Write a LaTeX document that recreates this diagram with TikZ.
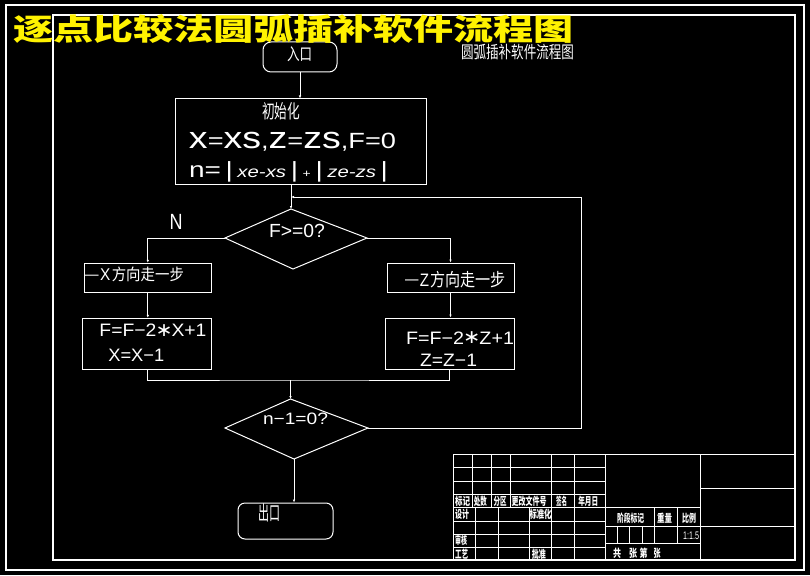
\documentclass[tikz,border=0pt]{standalone}
\usepackage{fontspec}
\usepackage{graphicx}
\setmainfont{Liberation Sans}
\newfontfamily\cjk{Noto Sans CJK SC}
\newfontfamily\dv{DejaVu Sans}
\usetikzlibrary{arrows.meta}
\newcommand\fitw[2]{\resizebox{#1}{\height}{#2}}
\newcommand\fs[1]{\fontsize{#1}{#1}\selectfont}
\newcommand\cx[1]{\scalebox{1.38}[1.38]{#1}}
\newcommand\myast{\kern-0.05em\raisebox{0.02em}{\scalebox{1.05}{\dv ∗}}\kern-0.05em}
\newcommand\mydash[1]{\raisebox{0.14em}{\fs{#1}—}}
\tikzset{
  ln/.style={draw=white, line width=1pt},
  tip/.style={ln, -{Latex[length=3pt,width=2.5pt]}},
  border/.style={draw=white, line width=1.3pt},
  boxn/.style={draw=white, line width=1pt, inner sep=0pt},
  txt/.style={text=white, inner sep=0pt},
  cell/.style={text=white, inner sep=0pt, font=\cjk\bfseries\fs{11}},
}
\begin{document}
\begin{tikzpicture}[x=1pt,y=-1pt]
\fill[black] (0,0) rectangle (810,575);
\useasboundingbox (0,0) rectangle (810,575);
% drawing frame
\draw[border] (6,5) rectangle (804,570);
\draw[border] (53,15) rectangle (795,560);

% boxes
\node[boxn, rounded corners=8pt, minimum width=74pt, minimum height=30pt] (start) at (300,57) {};
\node[boxn, minimum width=251pt, minimum height=85pt] (init) at (300.5,141.5) {};
\node[boxn, minimum width=127.5pt, minimum height=29pt] (bx1) at (147.8,277.8) {};
\node[boxn, minimum width=129.5pt, minimum height=50.7pt] (bx2) at (147,343.7) {};
\node[boxn, minimum width=127pt, minimum height=29pt] (bx3) at (450.5,277.5) {};
\node[boxn, minimum width=129pt, minimum height=51pt] (bx4) at (449.5,343.5) {};
\node[boxn, rounded corners=7pt, minimum width=95pt, minimum height=36pt] (exit) at (285.5,521) {};

% diamonds
\coordinate (d1t) at (291,209);
\coordinate (d1r) at (367,238);
\coordinate (d1b) at (293,269);
\coordinate (d1l) at (225,238);
\draw[ln] (d1t) -- (d1r) -- (d1b) -- (d1l) -- cycle;
\coordinate (d2t) at (290.5,399);
\coordinate (d2r) at (368,428);
\coordinate (d2b) at (294,459);
\coordinate (d2l) at (225,428);
\draw[ln] (d2t) -- (d2r) -- (d2b) -- (d2l) -- cycle;

% connectors
\coordinate (m) at (290.5,380);
\coordinate (lc) at (581,197);
\coordinate (j1) at (291,197);
\draw[tip] (start.south) -- (start.south |- init.north);
\draw[tip] (init.south -| d1t) -- (d1t);
\draw[tip] (d1l) -| (bx1.north);
\draw[tip] (d1r) -| (bx3.north);
\draw[tip] (bx1.south) -- (bx1.south |- bx2.north);
\draw[tip] (bx3.south) -- (bx3.south |- bx4.north);
\draw[ln] (bx2.south) |- (m) -| (bx4.south);
\draw[tip] (m) -- (d2t);
\draw[tip] (d2r) -| (lc) -- (j1);
\draw[tip] (d2b) -- (d2b |- exit.north);

% table (title block)
\draw[ln] (453,454) rectangle (795,560);
\foreach \y in {467.3,481,494.3,507.3,521,534.3,547.3}
  \draw[ln] (453,\y) -- (605.3,\y);
\foreach \x in {472.3,491.3,510.3}
  \draw[ln] (\x,454) -- (\x,507.3);
\foreach \x in {475.3,498.3,529.3}
  \draw[ln] (\x,507.3) -- (\x,560);
\foreach \x in {551.7,574.3,605.3,700.7}
  \draw[ln] (\x,454) -- (\x,560);
\draw[ln] (605.3,507.3) -- (700.7,507.3);
\draw[ln] (605.3,526.3) -- (795,526.3);
\draw[ln] (605.3,543.3) -- (700.7,543.3);
\draw[ln] (700.7,488.3) -- (795,488.3);
\foreach \x in {654.3,677.3}
  \draw[ln] (\x,507.3) -- (\x,543.3);
\foreach \x in {617.3,629.3,642.3}
  \draw[ln] (\x,526.3) -- (\x,543.3);

% table labels
\node[cell] (c1) at (462.5,501.5) {\fitw{15pt}{标记}};
\node[cell] (c2) at (480.3,501.5) {\fitw{13pt}{处数}};
\node[cell] (c3) at (500,501.5) {\fitw{13pt}{分区}};
\node[cell] (c4) at (529,501.5) {\fitw{35pt}{更改文件号}};
\node[cell] (c5) at (561.7,501.5) {\fitw{11pt}{签名}};
\node[cell] (c6) at (588.3,501.5) {\fitw{20pt}{年月日}};
\node[cell] (c7) at (462,514.5) {\fitw{14pt}{设计}};
\node[cell] (c8) at (540.5,514.5) {\fitw{22pt}{标准化}};
\node[cell] (c9) at (461,540.3) {\fitw{12pt}{审核}};
\node[cell] (c10) at (461.7,553.7) {\fitw{13pt}{工艺}};
\node[cell] (c11) at (538.8,554) {\fitw{14pt}{批准}};
\node[cell] (c12) at (630.5,518.5) {\fitw{27pt}{阶段标记}};
\node[cell] (c13) at (664.5,518.5) {\fitw{15pt}{重量}};
\node[cell] (c14) at (689,518.5) {\fitw{14pt}{比例}};
\node[txt, font=\fs{11}] (c15) at (691,535.5) {\fitw{16pt}{1:1.5}};
\node[cell] (c16) at (617,553) {\fitw{8pt}{共}};
\node[cell] (c17) at (633,553) {\fitw{8pt}{张}};
\node[cell] (c18) at (643.5,553) {\fitw{8pt}{第}};
\node[cell] (c19) at (657,553) {\fitw{7pt}{张}};

% texts
\node[txt] (ts) at (299.5,54.5) {\fitw{25pt}{\cjk\fs{17}入口}};
\node[txt] (subt) at (517.5,52) {\fitw{113pt}{\cjk\fs{17}圆弧插补软件流程图}};
\node[txt] (ti) at (281,111.5) {\fitw{38pt}{\cjk\fs{19}初始化}};
\node[txt, anchor=base] (l1) at (292.5,148) {\fitw{207pt}{\fs{22}\cx{x}=\cx{x}\cx{s},\cx{z}=\cx{z}\cx{s},F=0}};
\node[txt, anchor=base] (l2) at (288.5,177) {\fitw{199pt}{\fs{22}n=\,|\,{\fs{16}\itshape xe-xs}\,|\,{\fs{11}+}\,|\,{\fs{16}\itshape ze-zs}\,|}};
\node[txt, anchor=base] (tf) at (297,237) {\fitw{56pt}{\fs{19}F>=0?}};
\node[txt, anchor=base] (tn) at (176,229) {\fitw{13pt}{\fs{22}N}};
\node[txt] (t1) at (134.5,274.5) {\fitw{99pt}{\mydash{15}\,{\fs{17}X}\,{\cjk\fs{16}方向走一步}}};
\node[txt, anchor=base] (t2) at (153,336.7) {\fitw{107pt}{\fs{18}F=F−2\myast X+1}};
\node[txt, anchor=base] (t3) at (136.3,361.7) {\fitw{56pt}{\fs{18}X=X−1}};
\node[txt] (t4) at (455.5,279.5) {\fitw{101pt}{\mydash{16}\,{\fs{18}Z}\,{\cjk\fs{18}方向走一步}}};
\node[txt, anchor=base] (t5) at (460,344) {\fitw{108pt}{\fs{18}F=F−2\myast Z+1}};
\node[txt, anchor=base] (t6) at (448.5,366) {\fitw{57pt}{\fs{18}Z=Z−1}};
\node[txt, anchor=base] (t7) at (295.5,424) {\fitw{65pt}{\fs{16.5}n−1=0?}};
\node[txt] (te) at (269,513) {\fitw{22pt}{\cjk\fs{20}出口}};

% big title
\node[text=yellow, inner sep=0pt] (title) at (293.5,28.5) {\fitw{561pt}{\cjk\bfseries\fs{30}逐点比较法圆弧插补软件流程图}};
\end{tikzpicture}
\end{document}
